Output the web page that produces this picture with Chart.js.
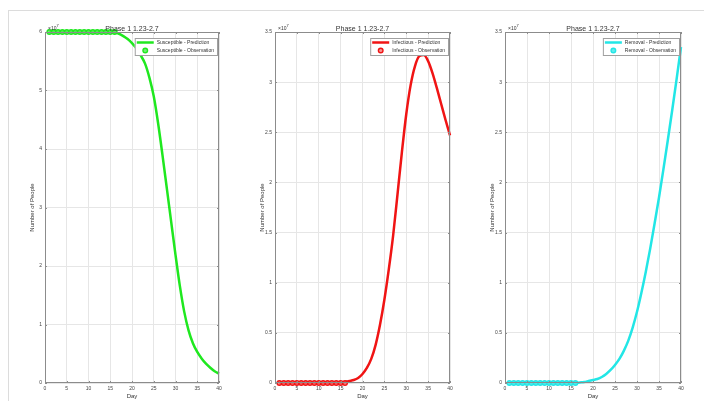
<!DOCTYPE html>
<html>
<head>
<meta charset="utf-8">
<script src="https://cdn.jsdelivr.net/npm/chart.js@4/dist/chart.umd.min.js"></script>
<style>
  body { margin: 0; background: #fff; width: 704px; height: 401px; overflow: hidden; position: relative; }
  #frame { position: absolute; left: 8px; top: 10px; right: -2px; bottom: -2px; border: 1px solid #dcdcdc; }
  canvas { position: absolute; top: 12px; }
</style>
</head>
<body>
<div id="frame"></div>
<canvas id="c1" width="212" height="389" style="left:14px"></canvas>
<canvas id="c2" width="213" height="389" style="left:244px"></canvas>
<canvas id="c3" width="214" height="389" style="left:474px"></canvas>
<script>
// values in units of 10^7 people
const days = [1,2,3,4,5,6,7,8,9,10,11,12,13,14,15,16,17,18,19,20,
              21,22,23,24,25,26,27,28,29,30,31,32,33,34,35,36,37,38,39,40];
const obsDays = [1,2,3,4,5,6,7,8,9,10,11,12,13,14,15,16];

const susceptiblePred = [6.00,6.00,6.00,6.00,6.00,6.00,6.00,6.00,6.00,6.00,6.00,6.00,6.00,6.00,6.00,5.99,5.97,5.93,5.88,5.81,
                         5.72,5.60,5.46,5.22,4.90,4.44,3.90,3.33,2.76,2.19,1.66,1.22,0.90,0.68,0.53,0.42,0.33,0.26,0.20,0.16];
const infectiousPred = [0,0,0,0,0,0,0,0,0,0,0,0,0,0,0,0.01,0.02,0.03,0.05,0.09,
                        0.15,0.24,0.38,0.58,0.83,1.13,1.47,1.88,2.30,2.68,2.97,3.16,3.26,3.27,3.21,3.09,2.94,2.78,2.62,2.47];
const removalPred = [0,0,0,0,0,0,0,0,0,0,0,0,0,0,0,0,0.005,0.01,0.02,0.03,
                     0.04,0.06,0.09,0.13,0.18,0.24,0.32,0.42,0.55,0.71,0.90,1.11,1.34,1.59,1.85,2.13,2.42,2.72,3.03,3.35];

const susceptibleObs = [6,6,6,6,6,6,6,6,6,6,6,6,6,6,6,6];
const infectiousObs = [0,0,0,0,0,0,0,0,0,0,0,0,0,0,0,0];
const removalObs = [0,0,0,0,0,0,0,0,0,0,0,0,0,0,0,0];

const xTicks = [0,5,10,15,20,25,30,35,40];
const yTicksS = [0,1,2,3,4,5,6];
const yTicksIR = [0,0.5,1,1.5,2,2.5,3,3.5];

const panelTitle = 'Phase 1 1.23-2.7';
const FONT = '"Liberation Sans", Arial, sans-serif';

const toPoints = (xs, ys) => xs.map((d, i) => ({ x: d, y: ys[i] }));

// box, inward ticks, title, exponent and legend drawn on top like the MATLAB axes
const axesDeco = {
  id: 'axesDeco',
  afterDraw(chart, args, opts) {
    const { ctx, chartArea: a, scales: { x, y } } = chart;
    ctx.save();
    ctx.strokeStyle = '#8c8c8c';
    ctx.lineWidth = 1;
    ctx.strokeRect(a.left + 0.5, a.top + 0.5, a.width - 1, a.height - 1);

    ctx.beginPath();
    x.ticks.forEach(t => {
      const px = Math.round(x.getPixelForValue(t.value)) + 0.5;
      ctx.moveTo(px, a.bottom); ctx.lineTo(px, a.bottom - 2);
      ctx.moveTo(px, a.top); ctx.lineTo(px, a.top + 2);
    });
    y.ticks.forEach(t => {
      const py = Math.round(y.getPixelForValue(t.value)) + 0.5;
      ctx.moveTo(a.left, py); ctx.lineTo(a.left + 2, py);
      ctx.moveTo(a.right, py); ctx.lineTo(a.right - 2, py);
    });
    ctx.stroke();

    // title
    ctx.fillStyle = '#333';
    ctx.font = '7px ' + FONT;
    ctx.textAlign = 'center';
    ctx.textBaseline = 'alphabetic';
    ctx.fillText(opts.title, (a.left + a.right) / 2, a.top - 1);

    // x10^7
    ctx.textAlign = 'left';
    ctx.font = '5px ' + FONT;
    ctx.fillText('\u00d710', a.left + 3, a.top - 2);
    const w = ctx.measureText('\u00d710').width;
    ctx.font = '4px ' + FONT;
    ctx.fillText('7', a.left + 3 + w, a.top - 5);

    // legend
    const items = chart.data.datasets;
    ctx.font = '5px ' + FONT;
    const textW = Math.max(...items.map(d => ctx.measureText(d.label).width));
    const bw = 22 + textW + 3, bh = 17;
    const bx = a.right - 2 - bw, by = a.top + 6;
    ctx.fillStyle = '#fff';
    ctx.fillRect(bx, by, bw, bh);
    ctx.strokeStyle = '#a0a0a0';
    ctx.strokeRect(bx + 0.5, by + 0.5, bw, bh);
    items.forEach((d, i) => {
      const ry = by + 4.5 + i * 8;
      if (d.showLine === false) {
        ctx.beginPath();
        ctx.arc(bx + 10.5, ry, d.pointRadius, 0, Math.PI * 2);
        ctx.fillStyle = d.backgroundColor;
        ctx.fill();
        ctx.lineWidth = d.borderWidth;
        ctx.strokeStyle = d.borderColor;
        ctx.stroke();
      } else {
        ctx.beginPath();
        ctx.moveTo(bx + 2, ry); ctx.lineTo(bx + 19, ry);
        ctx.lineWidth = 2.5;
        ctx.strokeStyle = d.borderColor;
        ctx.stroke();
      }
      ctx.fillStyle = '#333';
      ctx.textBaseline = 'middle';
      ctx.fillText(d.label, bx + 22, ry);
    });
    ctx.restore();
  }
};

function makePanel(id, name, color, fill, pred, obs, yTicks) {
  new Chart(document.getElementById(id), {
    type: 'line',
    data: {
      datasets: [{
        label: name + ' - Prediction',
        data: toPoints(days, pred),
        borderColor: color,
        borderWidth: 2.5,
        pointRadius: 0,
        cubicInterpolationMode: 'monotone',
        clip: false,
        order: 2
      }, {
        label: name + ' - Observation',
        data: toPoints(obsDays, obs),
        showLine: false,
        pointStyle: 'circle',
        pointRadius: 2.3,
        borderWidth: 1.4,
        borderColor: color,
        backgroundColor: fill,
        clip: false,
        order: 1
      }]
    },
    options: {
      responsive: false,
      animation: false,
      events: [],
      layout: { padding: { left: 0, right: 7, top: 20, bottom: 0 } },
      plugins: {
        legend: { display: false },
        tooltip: { enabled: false },
        axesDeco: { title: panelTitle }
      },
      scales: {
        x: {
          type: 'linear', min: 0, max: 40,
          afterBuildTicks: s => { s.ticks = xTicks.map(v => ({ value: v })); },
          afterFit: s => { s.height = 18; },
          grid: { color: '#e6e6e6', drawTicks: false },
          border: { display: false },
          ticks: { font: { family: FONT, size: 5 }, color: '#444', padding: 3, maxRotation: 0, callback: v => String(v) },
          title: { display: true, text: 'Day', font: { family: FONT, size: 6 }, color: '#333', padding: { top: 0, bottom: 1 } }
        },
        y: {
          type: 'linear', min: 0, max: yTicks[yTicks.length - 1],
          afterBuildTicks: s => { s.ticks = yTicks.map(v => ({ value: v })); },
          afterFit: s => { s.width = 31; },
          grid: { color: '#e6e6e6', drawTicks: false },
          border: { display: false },
          ticks: { font: { family: FONT, size: 5 }, color: '#444', padding: 3, callback: v => String(v) },
          title: { display: true, text: 'Number of People', font: { family: FONT, size: 6 }, color: '#333', padding: { top: 15, bottom: 0 } }
        }
      }
    },
    plugins: [axesDeco]
  });
}

makePanel('c1', 'Susceptible', '#1fe81f', 'rgba(90,235,90,0.85)', susceptiblePred, susceptibleObs, yTicksS);
makePanel('c2', 'Infectious', '#f01414', 'rgba(245,110,110,0.75)', infectiousPred, infectiousObs, yTicksIR);
makePanel('c3', 'Removal', '#22e6e6', 'rgba(80,235,235,0.9)', removalPred, removalObs, yTicksIR);
</script>
</body>
</html>
